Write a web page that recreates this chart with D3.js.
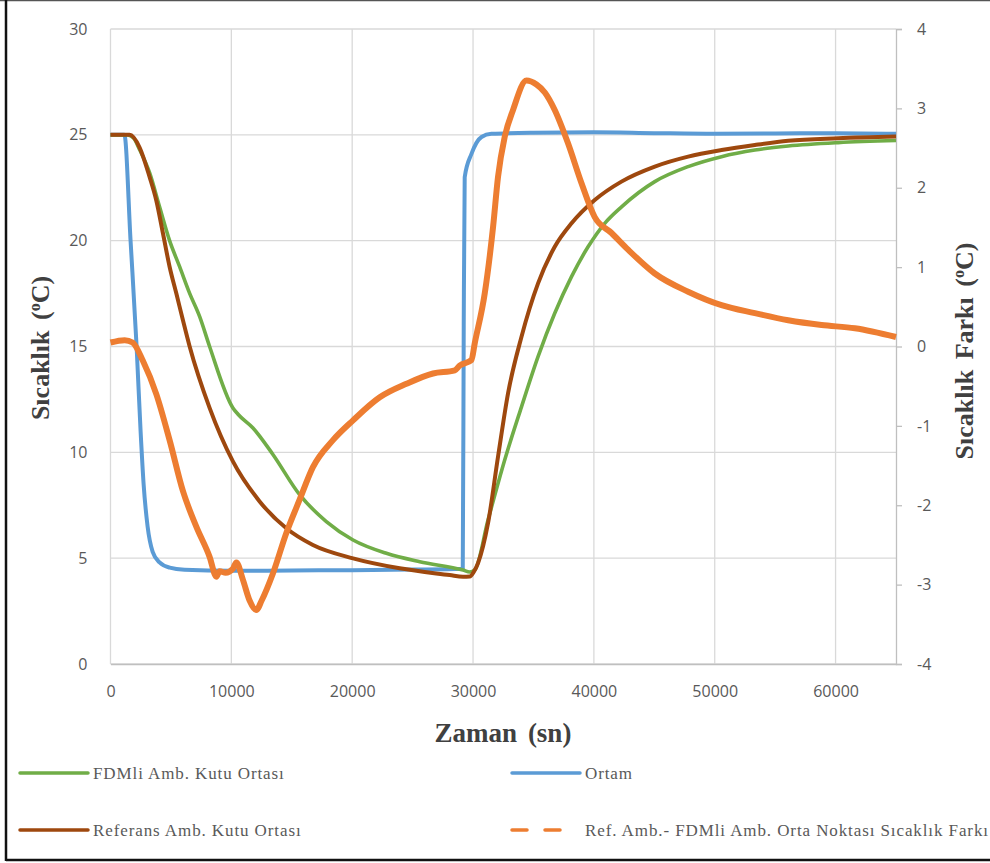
<!DOCTYPE html>
<html>
<head>
<meta charset="utf-8">
<script src="https://cdn.jsdelivr.net/npm/d3@7/dist/d3.min.js"></script>
<style>
  html, body { margin: 0; padding: 0; background: #fff; }
  svg { display: block; }
</style>
</head>
<body>
<script>
// Time (s) and temperature (°C) readings for each series
const fdmTime = [0, 1420, 1910, 2410, 3240, 4060, 4890, 5720, 6550, 7380, 8200, 10130, 10550, 11790, 13440, 15650, 17860, 20070, 22830, 25590, 29170, 29730, 30140, 31240, 32620, 34010, 35380, 36760, 38150, 39520, 40900, 42290, 45040, 47800, 50560, 53320, 56080, 60210, 65000];
const fdmTemp = [25.0, 25.0, 24.85, 24.3, 23.2, 21.6, 20.0, 18.77, 17.51, 16.41, 15.0, 12.1, 11.8, 11.15, 9.9, 8.0, 6.73, 5.86, 5.23, 4.83, 4.44, 4.35, 4.44, 6.8, 9.64, 12.15, 14.52, 16.57, 18.3, 19.71, 20.82, 21.6, 22.79, 23.5, 23.97, 24.28, 24.47, 24.63, 24.73];

const refTime = [0, 1580, 2410, 3240, 3790, 4340, 4890, 5450, 5990, 6550, 8200, 10130, 12340, 14550, 16750, 20070, 23930, 28070, 29170, 29730, 30060, 30410, 31240, 32070, 32900, 34010, 35380, 36760, 38150, 40070, 42280, 45040, 47800, 50560, 53320, 56080, 60210, 65000];
const refTemp = [25.0, 25.0, 24.4, 23.0, 21.9, 20.35, 18.77, 17.5, 16.25, 15.0, 12.1, 9.57, 7.68, 6.41, 5.62, 4.99, 4.52, 4.2, 4.12, 4.13, 4.35, 4.76, 6.65, 9.8, 12.8, 15.46, 17.98, 19.71, 20.82, 21.92, 22.79, 23.5, 23.97, 24.28, 24.52, 24.72, 24.84, 24.92];

const ambTime = [0, 1150, 1660, 2160, 2490, 2740, 3070, 3490, 4060, 4900, 6130, 10000, 15000, 20000, 25000, 29150, 29230, 29310, 29870, 30700, 31520, 35000, 40000, 45000, 50000, 55000, 60000, 65000];
const ambTemp = [25.0, 25.0, 20.0, 15.0, 11.0, 8.5, 6.5, 5.3, 4.8, 4.55, 4.45, 4.4, 4.42, 4.43, 4.46, 4.5, 16.0, 23.0, 24.1, 24.9, 25.05, 25.1, 25.12, 25.08, 25.05, 25.06, 25.08, 25.05];

// Reference minus FDM mid-point difference (°C), right axis
const diffTime = [0, 1170, 1830, 2680, 3790, 4890, 5990, 7100, 8200, 8760, 9030, 9530, 10130, 10410, 10960, 11510, 12070, 12510, 13440, 14550, 15650, 16750, 18410, 20070, 22280, 24490, 26690, 28490, 28900, 29870, 30140, 30970, 31660, 32070, 32620, 33310, 34420, 35250, 35940, 36760, 37860, 38970, 40070, 41460, 42830, 45040, 47800, 50560, 53320, 56080, 58840, 61600, 65000];
const diffVal = [0.05, 0.08, 0.05, -0.18, -0.6, -1.18, -1.82, -2.27, -2.65, -2.9, -2.83, -2.85, -2.8, -2.72, -2.94, -3.2, -3.32, -3.2, -2.86, -2.35, -1.93, -1.52, -1.18, -0.93, -0.64, -0.47, -0.34, -0.3, -0.24, -0.17, 0.04, 0.67, 1.51, 2.14, 2.64, 2.98, 3.35, 3.3, 3.2, 2.98, 2.56, 2.06, 1.63, 1.43, 1.22, 0.92, 0.69, 0.52, 0.42, 0.33, 0.27, 0.23, 0.12];

// Axis ticks
const xTicks = [0, 10000, 20000, 30000, 40000, 50000, 60000];
const yLeftTicks = [0, 5, 10, 15, 20, 25, 30];
const yRightTicks = [-4, -3, -2, -1, 0, 1, 2, 3, 4];

// Legend entries
const legendLabels = ["FDMli Amb. Kutu Ortası", "Ortam", "Referans Amb. Kutu Ortası", "Ref. Amb.- FDMli Amb. Orta Noktası Sıcaklık Farkı"];

const W = 990, H = 863;
const plot = { left: 110.5, right: 896, top: 29, bottom: 664 };

const svg = d3.select("body").append("svg").attr("width", W).attr("height", H);
svg.append("rect").attr("width", W).attr("height", H).attr("fill", "#fff");

const x = d3.scaleLinear().domain([0, 65000]).range([plot.left, plot.right]);
const yL = d3.scaleLinear().domain([0, 30]).range([plot.bottom, plot.top]);
const yR = d3.scaleLinear().domain([-4, 4]).range([plot.bottom, plot.top]);

const tickFont = "'Open Sans', 'DejaVu Sans', sans-serif";
const serif = "'Liberation Serif', 'Times New Roman', serif";

// Gridlines
const grid = svg.append("g");
grid.selectAll("line.h").data(yLeftTicks).join("line")
  .attr("x1", plot.left).attr("x2", plot.right)
  .attr("y1", d => yL(d)).attr("y2", d => yL(d))
  .attr("stroke", "#d9d9d9").attr("stroke-width", 1.3);
grid.selectAll("line.v").data(xTicks).join("line")
  .attr("y1", plot.top).attr("y2", plot.bottom)
  .attr("x1", d => x(d)).attr("x2", d => x(d))
  .attr("stroke", "#d9d9d9").attr("stroke-width", 1.3);

// Bottom axis
const xAxis = svg.append("g").attr("transform", `translate(0,${plot.bottom})`)
  .call(d3.axisBottom(x).tickValues(xTicks).tickSize(0).tickPadding(22).tickFormat(d3.format("d")));
xAxis.select(".domain").attr("stroke", "#bfbfbf").attr("stroke-width", 1.3);
xAxis.selectAll("text").attr("font-family", tickFont).attr("font-size", 16).attr("fill", "#595959");

// Left axis
const yAxisL = svg.append("g").attr("transform", `translate(${plot.left},0)`)
  .call(d3.axisLeft(yL).tickValues(yLeftTicks).tickSize(0).tickPadding(23));
yAxisL.select(".domain").remove();
yAxisL.selectAll("text").attr("font-family", tickFont).attr("font-size", 16).attr("fill", "#595959");

// Right axis
const yAxisR = svg.append("g").attr("transform", `translate(${plot.right},0)`)
  .call(d3.axisRight(yR).tickValues(yRightTicks).tickSize(6).tickPadding(15).tickFormat(d => String(d)));
yAxisR.select(".domain").attr("stroke", "#bfbfbf").attr("stroke-width", 1.3);
yAxisR.selectAll(".tick line").attr("stroke", "#bfbfbf").attr("stroke-width", 1.3);
yAxisR.selectAll("text").attr("font-family", tickFont).attr("font-size", 16).attr("fill", "#595959");

// Series lines
const lineL = d3.line().x(d => x(d[0])).y(d => yL(d[1])).curve(d3.curveMonotoneX);
const lineR = d3.line().x(d => x(d[0])).y(d => yR(d[1])).curve(d3.curveMonotoneX);
const zip = (a, b) => a.map((v, i) => [v, b[i]]);

const plotG = svg.append("g");
plotG.append("path").datum(zip(ambTime, ambTemp)).attr("d", lineL)
  .attr("fill", "none").attr("stroke", "#5b9bd5").attr("stroke-width", 4).attr("stroke-linejoin", "round");
plotG.append("path").datum(zip(fdmTime, fdmTemp)).attr("d", lineL)
  .attr("fill", "none").attr("stroke", "#70ad47").attr("stroke-width", 3.6).attr("stroke-linejoin", "round");
plotG.append("path").datum(zip(refTime, refTemp)).attr("d", lineL)
  .attr("fill", "none").attr("stroke", "#9e480e").attr("stroke-width", 4).attr("stroke-linejoin", "round");
plotG.append("path").datum(zip(diffTime, diffVal)).attr("d", lineR)
  .attr("fill", "none").attr("stroke", "#ed7d31").attr("stroke-width", 6).attr("stroke-linejoin", "round");

// Axis titles
svg.append("text").attr("x", 503).attr("y", 742).attr("text-anchor", "middle")
  .attr("font-family", serif).attr("font-weight", "bold").attr("font-size", 27)
  .attr("fill", "#404040").attr("word-spacing", 4).text("Zaman (sn)");

function vTitle(cx, cy, label) {
  const t = svg.append("text").attr("transform", `translate(${cx},${cy}) rotate(-90)`)
    .attr("text-anchor", "middle").attr("font-family", serif).attr("font-weight", "bold")
    .attr("font-size", 26).attr("fill", "#404040").attr("word-spacing", 4);
  t.append("tspan").text(label + " (");
  t.append("tspan").attr("font-size", 16).attr("dy", -9).text("o");
  t.append("tspan").attr("dy", 9).text("C)");
}
vTitle(49, 348, "Sıcaklık");
vTitle(973, 351, "Sıcaklık Farkı");

// Legend
const legendItems = [
  { label: legendLabels[0], color: "#70ad47", dash: null, len: 68, lx: 18, ly: 773 },
  { label: legendLabels[1], color: "#5b9bd5", dash: null, len: 68, lx: 510, ly: 773 },
  { label: legendLabels[2], color: "#9e480e", dash: null, len: 68, lx: 18, ly: 830 },
  { label: legendLabels[3], color: "#ed7d31", dash: "15,18", len: 48, lx: 510, ly: 830 }
];
const leg = svg.append("g").selectAll("g").data(legendItems).join("g")
  .attr("transform", d => `translate(${d.lx},${d.ly})`);
leg.append("line").attr("x1", 2).attr("x2", d => 2 + d.len).attr("y1", 0).attr("y2", 0)
  .attr("stroke", d => d.color).attr("stroke-width", 3.5).attr("stroke-linecap", "round")
  .attr("stroke-dasharray", d => d.dash);
leg.append("text").attr("x", 75).attr("y", 6)
  .attr("font-family", serif).attr("font-size", 17).attr("letter-spacing", 0.9).attr("fill", "#595959")
  .text(d => d.label);

// Outer frame
svg.append("line").attr("x1", 0).attr("x2", W).attr("y1", 0.5).attr("y2", 0.5).attr("stroke", "#555").attr("stroke-width", 1.5);
svg.append("line").attr("x1", 6).attr("x2", 6).attr("y1", 0).attr("y2", 861).attr("stroke", "#111").attr("stroke-width", 2.5);
svg.append("line").attr("x1", 6).attr("x2", W).attr("y1", 860).attr("y2", 860).attr("stroke", "#111").attr("stroke-width", 2.5);
</script>
</body>
</html>
